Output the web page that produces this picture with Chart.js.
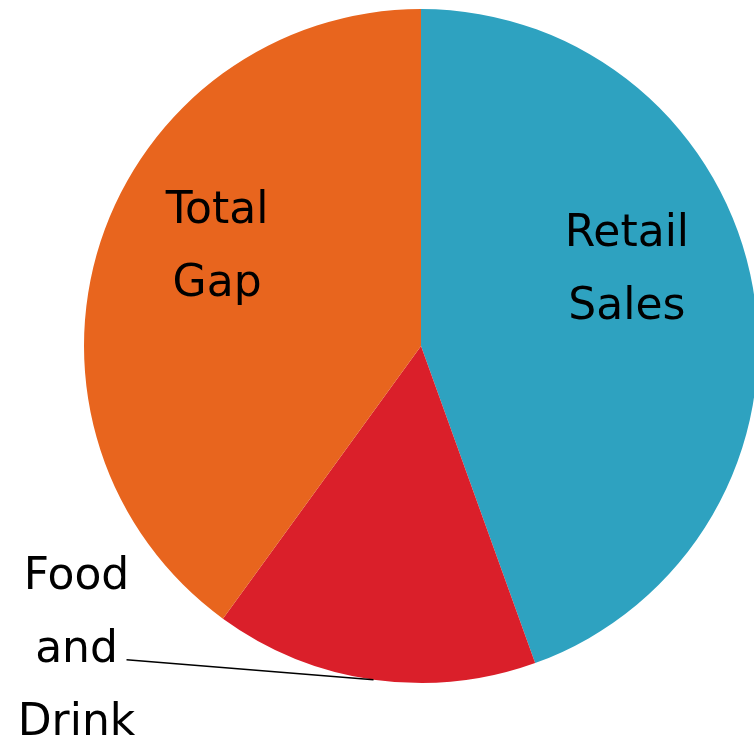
<!DOCTYPE html>
<html>
<head>
<meta charset="utf-8">
<script src="https://cdn.jsdelivr.net/npm/chart.js@4/dist/chart.umd.min.js"></script>
<style>
html,body{margin:0;padding:0;background:#fff;overflow:hidden;width:754px;height:738px;}
canvas{display:block;}
</style>
</head>
<body>
<canvas id="c" width="758" height="738"></canvas>
<script>
const categories = ['Retail Sales', 'Food and Drink', 'Total Gap'];
const values = [44.5, 15.5, 40];
const colors = ['#2ea2c0', '#da1f2a', '#e8651e'];

// label placement styles (fraction along slice angle, fraction of radius, inside/outside)
const labelStyles = [
  {inside: true, angleFrac: 0.43, radFrac: 0.655},
  {inside: false, angleFrac: 0.5, dx: -247, dy: -20, textDx: -50, textDy: 2},
  {inside: true, angleFrac: 0.56, radFrac: 0.677}
];
const FONT = '44px "DejaVu Sans", sans-serif';
const LH = 73;
const CAP = 32;

const labelPlugin = {
  id: 'pieLabels',
  afterDatasetsDraw(chart) {
    const ctx = chart.ctx;
    const meta = chart.getDatasetMeta(0);
    ctx.save();
    ctx.font = FONT;
    ctx.fillStyle = '#000';
    ctx.textAlign = 'center';
    ctx.textBaseline = 'alphabetic';
    meta.data.forEach((arc, i) => {
      const p = arc.getProps(['x', 'y', 'startAngle', 'endAngle', 'outerRadius'], true);
      const st = labelStyles[i];
      const words = chart.data.labels[i].split(' ');
      const a = p.startAngle + st.angleFrac * (p.endAngle - p.startAngle);
      if (st.inside) {
        const r = p.outerRadius * st.radFrac;
        const ax = p.x + r * Math.cos(a);
        const ay = p.y + r * Math.sin(a);
        words.forEach((w, k) => {
          ctx.fillText(w, ax, ay - (words.length - 1) * LH / 2 + CAP / 2 + k * LH);
        });
      } else {
        const ex = p.x + p.outerRadius * Math.cos(a);
        const ey = p.y + p.outerRadius * Math.sin(a);
        const lx = ex + st.dx, ly = ey + st.dy;
        ctx.beginPath();
        ctx.strokeStyle = '#000';
        ctx.lineWidth = 1.5;
        ctx.moveTo(ex, ey);
        ctx.lineTo(lx, ly);
        ctx.stroke();
        const tx = lx + st.textDx;
        const midBase = ly + st.textDy;
        const mid = (words.length - 1) / 2;
        words.forEach((w, k) => {
          ctx.fillText(w, tx, midBase + (k - mid) * LH);
        });
      }
    });
    ctx.restore();
  }
};

new Chart(document.getElementById('c'), {
  type: 'pie',
  data: {
    labels: categories,
    datasets: [{
      data: values,
      backgroundColor: colors,
      borderWidth: 0
    }]
  },
  options: {
    responsive: false,
    animation: false,
    devicePixelRatio: 1,
    layout: {padding: {left: 84, right: 0, top: 9, bottom: 55}},
    plugins: {legend: {display: false}, tooltip: {enabled: false}}
  },
  plugins: [labelPlugin]
});
</script>
</body>
</html>
